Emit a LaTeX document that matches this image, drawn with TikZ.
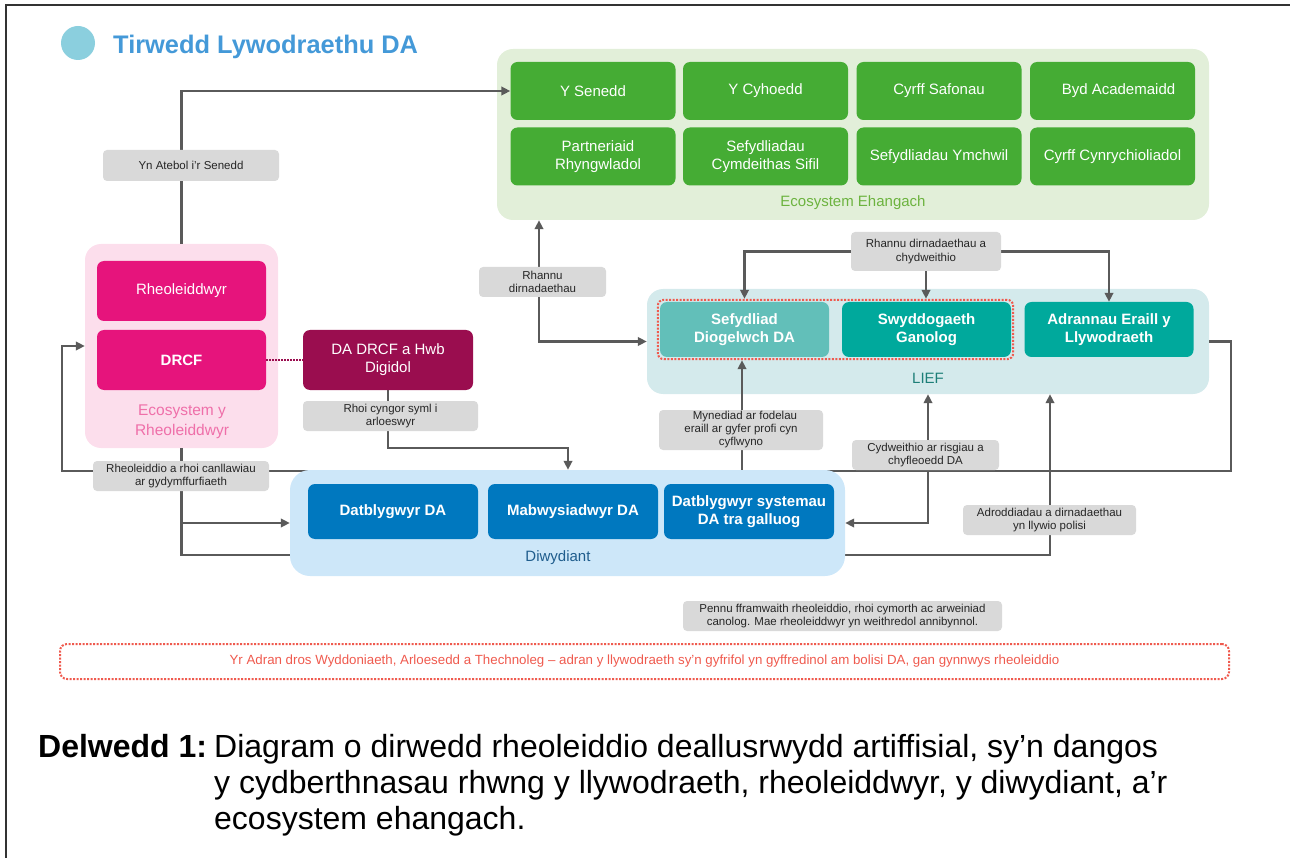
\documentclass[tikz,border=0pt]{standalone}
\usepackage{fontspec}
\setmainfont{Liberation Sans}
\usetikzlibrary{arrows.meta,fit}

\definecolor{titleblue}{HTML}{4499D8}
\definecolor{titledot}{HTML}{8BCFDE}
\definecolor{ecopanel}{HTML}{E2EFD9}
\definecolor{ecogreen}{HTML}{45AC34}
\definecolor{ecolabel}{HTML}{6CB33F}
\definecolor{regpanel}{HTML}{FCDEEC}
\definecolor{regpink}{HTML}{E6147C}
\definecolor{reglabel}{HTML}{EF6FA9}
\definecolor{drcfdark}{HTML}{9A0D4F}
\definecolor{taggray}{HTML}{D9D9D9}
\definecolor{tagtext}{HTML}{262626}
\definecolor{linegray}{HTML}{5A5A5A}
\definecolor{indpanel}{HTML}{CDE7F9}
\definecolor{indblue}{HTML}{0078BF}
\definecolor{indlabel}{HTML}{1F5D8D}
\definecolor{liefpanel}{HTML}{D4EAEC}
\definecolor{liefpale}{HTML}{62BFB9}
\definecolor{liefteal}{HTML}{00A99C}
\definecolor{liefgreen}{HTML}{1D7F78}
\definecolor{reddash}{HTML}{EF5A4E}

\pgfdeclarelayer{back}
\pgfdeclarelayer{lines}
\pgfsetlayers{back,lines,main}

\tikzset{
  panel/.style={rounded corners=16pt, inner sep=0pt},
  tile/.style={rounded corners=7pt, text=white, align=center, inner sep=2pt,
    font=\fontsize{15}{18}\selectfont},
  greentile/.style={tile, fill=ecogreen, minimum width=165pt, minimum height=58pt},
  pinktile/.style={tile, fill=regpink, minimum width=169pt, minimum height=60pt},
  bluetile/.style={tile, fill=indblue, minimum width=170pt, minimum height=55pt,
    font=\fontsize{15}{18}\selectfont\bfseries},
  tealtile/.style={tile, fill=liefteal, minimum width=169pt, minimum height=55pt,
    font=\fontsize{15}{18}\selectfont\bfseries},
  paneltext/.style={font=\fontsize{15}{20}\selectfont, align=center, inner sep=0pt},
  tag/.style={fill=taggray, rounded corners=4pt, align=center, text=tagtext,
    inner sep=1pt, font=\fontsize{11.5}{13.5}\selectfont},
  conn/.style={draw=linegray, line width=2.4pt},
  reddots/.style={draw=reddash, line width=2pt, dash pattern=on 2pt off 1.5pt,
    rounded corners=6pt},
  capt/.style={anchor=base west, inner sep=0pt, font=\fontsize{32}{36}\selectfont}
}

\begin{document}
\begin{tikzpicture}[x=1pt, y=-1pt, >={Triangle[length=9pt,width=8.5pt]}]
\useasboundingbox (0,0) rectangle (1290,858);

% frame
\draw[line width=2pt, black!80] (6,858) -- (6,5) -- (1290,5);

% title
\fill[titledot] (78,43) circle (17pt);
\node[anchor=base west, inner sep=0pt, text=titleblue,
  font=\fontsize{25.4}{30}\selectfont\bfseries] (title) at (113,54) {Tirwedd Lywodraethu DA};

% panels
\begin{pgfonlayer}{back}
\node[panel, fill=ecopanel, minimum width=712pt, minimum height=171pt] (eco) at (853,134.5) {};
\node[panel, fill=liefpanel, minimum width=562pt, minimum height=105pt] (lief) at (928,341.5) {};
\node[panel, fill=regpanel, minimum width=193pt, minimum height=204pt] (reg) at (181.5,346) {};
\end{pgfonlayer}
\node[panel, rounded corners=20pt, fill=indpanel, minimum width=555pt, minimum height=106pt] (diwyd) at (567.5,523) {};

% wider ecosystem
\node[greentile] (senedd) at (593,91) {Y Senedd};
\node[greentile] (cyhoedd) at (765.5,91) {Y Cyhoedd};
\node[greentile] (safonau) at (939,91) {Cyrff Safonau};
\node[greentile] (academ) at (1112.5,91) {\hspace*{12pt}Byd Academaidd};
\node[greentile] (partner) at (593,156.5) {\hspace*{10pt}Partneriaid\\\hspace*{10pt}Rhyngwladol};
\node[greentile] (sifil) at (765.5,156.5) {Sefydliadau\\Cymdeithas Sifil};
\node[greentile] (ymchwil) at (939,156.5) {Sefydliadau Ymchwil};
\node[greentile] (cynrych) at (1112.5,156.5) {Cyrff Cynrychioliadol};
\node[paneltext, text=ecolabel] (ecolbl) at (853,203) {Ecosystem Ehangach};

% regulators
\node[pinktile] (rheol) at (181.5,291) {Rheoleiddwyr};
\node[pinktile, font=\fontsize{15}{18}\selectfont\bfseries] (drcf) at (181.5,360) {DRCF};
\node[paneltext, text=reglabel, font=\fontsize{15.5}{20}\selectfont] (reglbl) at (182,422) {Ecosystem y\\Rheoleiddwyr};
\node[tile, fill=drcfdark, minimum width=170pt, minimum height=60pt] (dadrcf) at (388,360) {DA DRCF a Hwb\\Digidol};
\draw[drcfdark, line width=1.5pt, dash pattern=on 1.5pt off 1.5pt] (drcf.east) -- (dadrcf.west);

% industry
\node[bluetile] (datbl) at (393,511.5) {Datblygwyr DA};
\node[bluetile] (mabw) at (573,511.5) {Mabwysiadwyr DA};
\node[bluetile] (galluog) at (749,511.5) {Datblygwyr systemau\\DA tra galluog};
\node[paneltext, text=indlabel] (diwydlbl) at (558,558) {Diwydiant};

% LIEF
\node[tealtile, fill=liefpale] (sefyd) at (744.5,329.5) {Sefydliad\\Diogelwch DA};
\node[tealtile] (swydd) at (926.5,329.5) {Swyddogaeth\\Ganolog};
\node[tealtile] (adran) at (1109,329.5) {Adrannau Eraill y\\Llywodraeth};
\node[reddots, fit=(sefyd)(swydd), inner sep=2pt] (ldot) {};
\node[paneltext, text=liefgreen] (lieflbl) at (928,378) {LIEF};

% labels on the lines
\node[tag, minimum width=176pt, minimum height=31pt] (atebol) at (191,165.5) {Yn Atebol i’r Senedd};
\node[tag, minimum width=175pt, minimum height=30pt] (cyngor) at (390.5,416) {Rhoi cyngor syml i\\arloeswyr};
\node[tag, minimum width=176pt, minimum height=30pt] (canll) at (181,476) {Rheoleiddio a rhoi canllawiau\\ar gydymffurfiaeth};
\node[tag, minimum width=127pt, minimum height=30pt] (rhannu) at (542.5,282) {Rhannu\\dirnadaethau};
\node[tag, minimum width=150pt, minimum height=39pt] (share) at (926,251.5) {Rhannu dirnadaethau a\\chydweithio};
\node[tag, minimum width=164pt, minimum height=40pt, font=\fontsize{11.5}{13}\selectfont] (mynediad) at (741,430) {\hspace*{8pt}Mynediad ar fodelau\\eraill ar gyfer profi cyn\\cyflwyno};
\node[tag, minimum width=147pt, minimum height=30pt] (cydw) at (925.5,455) {Cydweithio ar risgiau a\\chyfleoedd DA};
\node[tag, minimum width=173pt, minimum height=30pt] (adrodd) at (1049.5,520) {Adroddiadau a dirnadaethau\\yn llywio polisi};
\node[tag, minimum width=319pt, minimum height=30pt] (pennu) at (842.5,616) {Pennu fframwaith rheoleiddio, rhoi cymorth ac arweiniad\\canolog. Mae rheoleiddwyr yn weithredol annibynnol.};

% department
\node[reddots, rounded corners=7pt, minimum width=1169pt, minimum height=35pt, text=reddash,
  font=\fontsize{13.3}{15}\selectfont] (dsit) at (644.5,661.5) {Yr Adran dros Wyddoniaeth, Arloesedd a Thechnoleg – adran y llywodraeth sy’n gyfrifol yn gyffredinol am bolisi DA, gan gynnwys rheoleiddio};

% connectors
\coordinate (xrh) at (539,0);
\coordinate (xcy) at (928,0);
\coordinate (lowrun) at (1050,555);
\begin{pgfonlayer}{lines}
\draw[conn,->] (reg.north) |- (senedd.west);
\draw[conn,->] (dadrcf.south) -- ++(0,58) -| (diwyd.north -| 568,0);
\draw[conn,->] (reg.south) |- (diwyd.west);
\draw[conn,->] (reg.south) |- (lowrun) -- (lowrun |- lief.south);
\draw[conn,->] (lief.east) -| (1231,471) -| (62,346) -- (reg.west);
\draw[conn,<->] (xrh |- eco.south) |- (lief.west);
\draw[conn,->] (share.west) -| (ldot.north -| sefyd.north);
\draw[conn,->] (share.south) -- (share.south |- ldot.north);
\draw[conn,->] (share.east) -| (adran.north);
\draw[conn,->] (diwyd.north -| 742,0) -- (ldot.south -| 742,0);
\draw[conn,<->] (xcy |- lief.south) |- (diwyd.east);
\end{pgfonlayer}

% caption
\node[capt, font=\fontsize{32}{36}\selectfont\bfseries] (captlbl) at (38,757) {Delwedd 1:};
\node[capt] (capt1) at (214,757) {Diagram o dirwedd rheoleiddio deallusrwydd artiffisial, sy’n dangos};
\node[capt] (capt2) at (214,793) {y cydberthnasau rhwng y llywodraeth, rheoleiddwyr, y diwydiant, a’r};
\node[capt] (capt3) at (214,829) {ecosystem ehangach.};

\end{tikzpicture}
\end{document}
